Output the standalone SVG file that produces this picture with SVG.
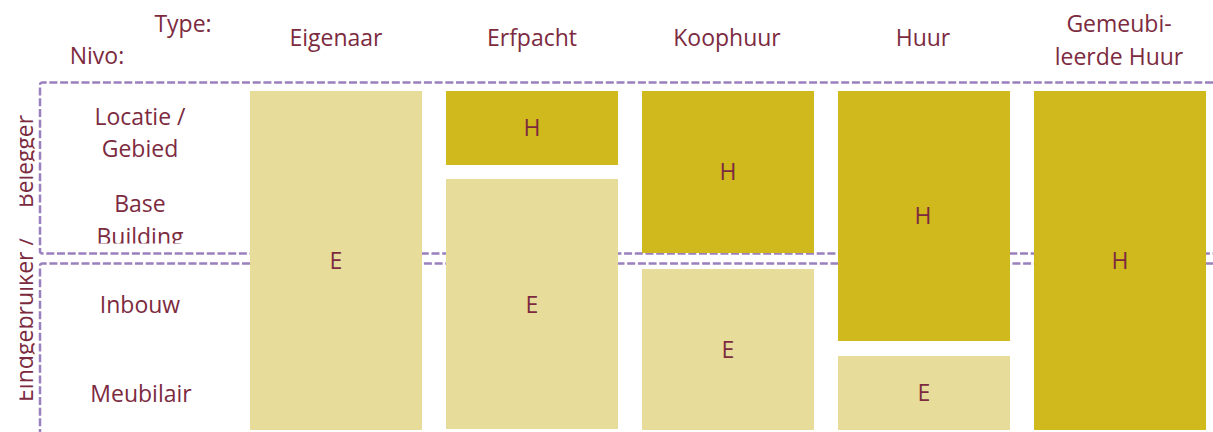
<svg xmlns="http://www.w3.org/2000/svg" width="1213" height="432" viewBox="0 0 1213 432">
  <defs>
    <style>
      .lbl { font-family: "Open Sans", "Noto Sans", "DejaVu Sans", sans-serif; font-size: 23px; fill: #7c2b3f; text-anchor: middle; }
      .side { font-family: "Open Sans", "Noto Sans", "DejaVu Sans", sans-serif; font-size: 23px; fill: #7c2b3f; }
      .e { fill: #e8dc9a; }
      .h { fill: #cfb91c; }
      .zone { fill: none; stroke: #9a80bf; stroke-width: 2.5; stroke-dasharray: 8 2.7; }
    </style>
    <!-- the side caption only shows its x-height band -->
    <clipPath id="sideClip">
      <rect x="19.5" y="0" width="15" height="432"/>
    </clipPath>
    <!-- the second line of the top row label is cut at its cell edge -->
    <clipPath id="baseClip">
      <rect x="60" y="180" width="180" height="63.5"/>
    </clipPath>
  </defs>

  <rect width="1213" height="432" fill="#ffffff"/>

  <!-- dashed zone frames (drawn under the blocks) -->
  <g id="connectors">
    <path class="zone" d="M1213,82.5 H42.5 Q40,82.5 40,85 V251 Q40,253.5 42.5,253.5 H1213"/>
    <path class="zone" d="M1213,263.5 H42.5 Q40,263.5 40,266 V432"/>
  </g>

  <!-- column and row headings -->
  <g id="headings">
    <text class="lbl" x="183" y="32">Type:</text>
    <text class="lbl" x="97" y="64">Nivo:</text>
    <text class="lbl" x="336" y="46">Eigenaar</text>
    <text class="lbl" x="532" y="46">Erfpacht</text>
    <text class="lbl" x="727" y="46">Koophuur</text>
    <text class="lbl" x="923" y="46">Huur</text>
    <text class="lbl" x="1119" y="32">Gemeubi-</text>
    <text class="lbl" x="1119" y="65">leerde Huur</text>
  </g>

  <g id="levels">
    <text class="lbl" x="140" y="125">Locatie /</text>
    <text class="lbl" x="140" y="157">Gebied</text>
    <text class="lbl" x="140" y="212">Base</text>
    <text class="lbl" x="140" y="245" clip-path="url(#baseClip)">Building</text>
    <text class="lbl" x="140" y="313">Inbouw</text>
    <text class="lbl" x="141" y="402">Meubilair</text>
  </g>

  <g id="side-caption" clip-path="url(#sideClip)">
    <text class="side" transform="translate(33,402) rotate(-90)" textLength="165" lengthAdjust="spacingAndGlyphs">Eindgebruiker /</text>
    <text class="side" transform="translate(33,208) rotate(-90)" textLength="93" lengthAdjust="spacingAndGlyphs">Belegger</text>
  </g>

  <!-- Eigenaar -->
  <g id="eigenaar-e">
    <rect class="e" x="250" y="91" width="172" height="339"/>
    <text class="lbl" x="336" y="269">E</text>
  </g>

  <!-- Erfpacht -->
  <g id="erfpacht-h">
    <rect class="h" x="446" y="91" width="172" height="74"/>
    <text class="lbl" x="532" y="136">H</text>
  </g>
  <g id="erfpacht-e">
    <rect class="e" x="446" y="179" width="172" height="250"/>
    <text class="lbl" x="532" y="313">E</text>
  </g>

  <!-- Koophuur -->
  <g id="koophuur-h">
    <rect class="h" x="642" y="91" width="172" height="162"/>
    <text class="lbl" x="728" y="180">H</text>
  </g>
  <g id="koophuur-e">
    <rect class="e" x="642" y="269" width="172" height="161"/>
    <text class="lbl" x="728" y="358">E</text>
  </g>

  <!-- Huur -->
  <g id="huur-h">
    <rect class="h" x="838" y="91" width="172" height="250"/>
    <text class="lbl" x="923" y="224">H</text>
  </g>
  <g id="huur-e">
    <rect class="e" x="838" y="356" width="172" height="74"/>
    <text class="lbl" x="924" y="401">E</text>
  </g>

  <!-- Gemeubileerde Huur -->
  <g id="gemeubileerde-h">
    <rect class="h" x="1034" y="91" width="172" height="339"/>
    <text class="lbl" x="1120" y="269">H</text>
  </g>
</svg>
